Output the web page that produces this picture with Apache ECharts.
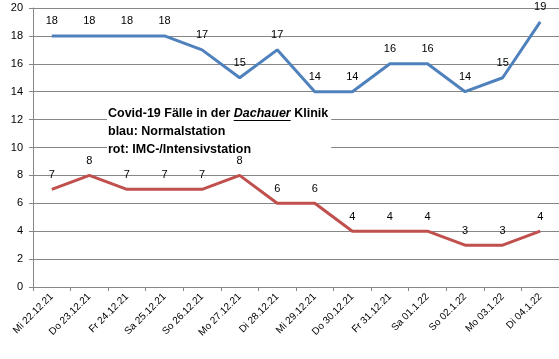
<!DOCTYPE html>
<html><head><meta charset="utf-8">
<script src="https://cdn.jsdelivr.net/npm/echarts@6/dist/echarts.min.js"></script>
<style>html,body{margin:0;padding:0;background:#fff}#c{width:559px;height:359px}</style>
</head><body><div id="c"></div>
<script>
const categories = ['Mi 22.12.21','Do 23.12.21','Fr 24.12.21','Sa 25.12.21','So 26.12.21','Mo 27.12.21','Di 28.12.21','Mi 29.12.21','Do 30.12.21','Fr 31.12.21','Sa 01.1.22','So 02.1.22','Mo 03.1.22','Di 04.1.22'];
const normalstation = [18,18,18,18,17,15,17,14,14,16,16,14,15,19];
const intensivstation = [7,8,7,7,7,8,6,6,4,4,4,3,3,4];
const FONT = '"Liberation Sans", Arial, sans-serif';
const FS = 12.5;
const ctx = document.createElement('canvas').getContext('2d');
ctx.font = 'bold ' + FS + 'px ' + FONT;
const x0 = 108 + ctx.measureText('Covid-19 Fälle in der ').width;
const wFull = ctx.measureText('Covid-19 Fälle in der Dachauer Klinik').width;
ctx.font = 'italic bold ' + FS + 'px ' + FONT;
const w = ctx.measureText('Dachauer').width;
const chart = echarts.init(document.getElementById('c'));
const lbl = {show:true, position:'top', distance:9, color:'#000', fontSize:11, fontFamily:FONT};
chart.setOption({
  animation:false,
  backgroundColor:'#fff',
  grid:{left:33, right:0, top:8, bottom:72, containLabel:false},
  xAxis:{type:'category', data:categories, boundaryGap:true,
    axisLine:{lineStyle:{color:'#868686'}},
    axisTick:{show:true, length:4, lineStyle:{color:'#868686'}},
    axisLabel:{rotate:45, fontSize:10, color:'#000', fontFamily:FONT, margin:8, interval:0},
    splitLine:{show:false}},
  yAxis:{type:'value', min:0, max:20, interval:2,
    axisLine:{show:true, lineStyle:{color:'#868686'}},
    axisTick:{show:true, length:4, lineStyle:{color:'#868686'}},
    axisLabel:{fontSize:11, color:'#000', fontFamily:FONT, margin:10},
    splitLine:{lineStyle:{color:'#868686'}}},
  series:[
    {type:'line', data:normalstation, symbol:'circle', symbolSize:0, showSymbol:true, lineStyle:{color:'#4F81BD', width:3}, itemStyle:{color:'#4F81BD'}, label:lbl},
    {type:'line', data:intensivstation, symbol:'circle', symbolSize:0, showSymbol:true, lineStyle:{color:'#C0504D', width:3}, itemStyle:{color:'#C0504D'}, label:lbl}
  ],
  graphic:[
    {type:'rect', shape:{x:107, y:103, width:wFull+4, height:52}, style:{fill:'#fff'}, z:10},
    {type:'text', x:108, y:105, z:11, style:{
      text:'{b|Covid-19 Fälle in der }{i|Dachauer}{b| Klinik}\n{b|blau: Normalstation}\n{b|rot: IMC-/Intensivstation}',
      rich:{
        b:{fontFamily:FONT, fontWeight:'bold', fontSize:FS, lineHeight:18, fill:'#000'},
        i:{fontFamily:FONT, fontWeight:'bold', fontStyle:'italic', fontSize:FS, lineHeight:18, fill:'#000'}
      }}},
    {type:'line', z:12, shape:{x1:x0, y1:120.5, x2:x0+w, y2:120.5}, style:{stroke:'#000', lineWidth:1}}
  ]
});
</script></body></html>
